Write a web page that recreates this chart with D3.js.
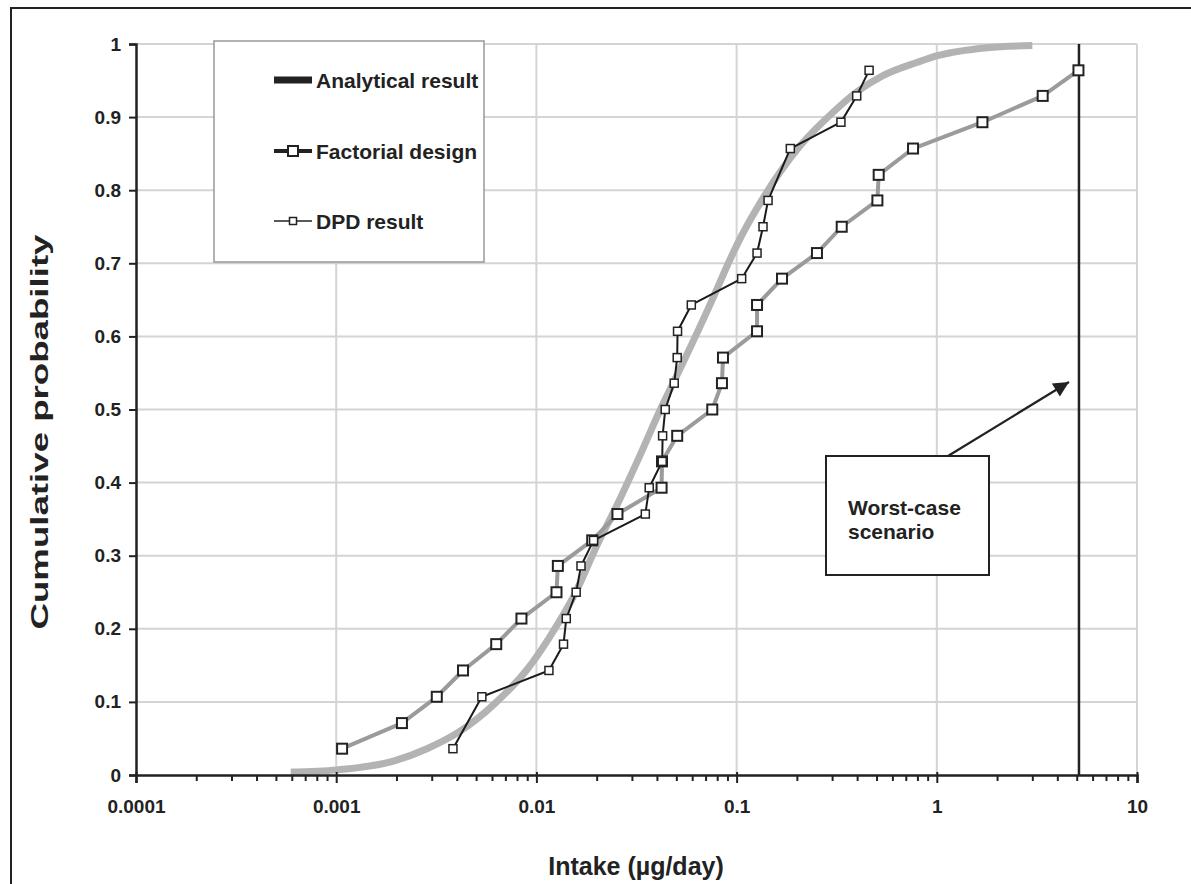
<!DOCTYPE html>
<html>
<head>
<meta charset="utf-8">
<script src="https://cdn.jsdelivr.net/npm/d3@7/dist/d3.min.js"></script>
<style>
  body { margin: 0; background: #fff; }
  svg { display: block; font-family: "Liberation Sans", Arial, sans-serif; }
</style>
</head>
<body>
<svg id="chart" width="1191" height="884"></svg>
<script>
// ---------------- DATA ----------------
const xTickValues = [0.0001, 0.001, 0.01, 0.1, 1, 10];
const xTickLabels = ["0.0001", "0.001", "0.01", "0.1", "1", "10"];
const yTickValues = [0, 0.1, 0.2, 0.3, 0.4, 0.5, 0.6, 0.7, 0.8, 0.9, 1];
const yTickLabels = ["0", "0.1", "0.2", "0.3", "0.4", "0.5", "0.6", "0.7", "0.8", "0.9", "1"];

// Analytical result
const analyticalX = [0.000593, 0.00101, 0.00193, 0.00284, 0.00416, 0.0061, 0.00896, 0.01366, 0.01532, 0.02006, 0.02525, 0.033, 0.0416, 0.0523, 0.0767, 0.0909, 0.102, 0.1314, 0.2081, 0.3043, 0.401, 0.541, 0.8, 1.007, 1.79, 3.0];
const analyticalP = [0.004, 0.007, 0.019, 0.036, 0.060, 0.096, 0.144, 0.220, 0.244, 0.314, 0.369, 0.438, 0.500, 0.556, 0.654, 0.700, 0.729, 0.783, 0.861, 0.907, 0.935, 0.957, 0.975, 0.984, 0.995, 0.998];

// Factorial design
const factorialX = [0.00107, 0.00213, 0.00318, 0.0043, 0.0063, 0.00842, 0.0126, 0.0128, 0.019, 0.0254, 0.0422, 0.0424, 0.0505, 0.0756, 0.0845, 0.0855, 0.1265, 0.1265, 0.1686, 0.252, 0.335, 0.505, 0.5125, 0.761, 1.69, 3.38, 5.10];
const factorialP = [0.036, 0.071, 0.107, 0.143, 0.179, 0.214, 0.25, 0.286, 0.321, 0.357, 0.393, 0.429, 0.464, 0.5, 0.536, 0.571, 0.607, 0.643, 0.679, 0.714, 0.75, 0.786, 0.821, 0.857, 0.893, 0.929, 0.964];

// DPD result
const dpdX = [0.00383, 0.00534, 0.01155, 0.01366, 0.0141, 0.0158, 0.0167, 0.0193, 0.035, 0.0366, 0.0425, 0.0427, 0.044, 0.0488, 0.0505, 0.0507, 0.0594, 0.106, 0.1265, 0.1355, 0.1436, 0.1855, 0.332, 0.398, 0.459];
const dpdP = [0.036, 0.107, 0.143, 0.179, 0.214, 0.25, 0.286, 0.321, 0.357, 0.393, 0.429, 0.464, 0.5, 0.536, 0.571, 0.607, 0.643, 0.679, 0.714, 0.75, 0.786, 0.857, 0.893, 0.929, 0.964];

const worstCaseX = 5.13;
const legendLabels = ["Analytical result", "Factorial design", "DPD result"];
const annotationLines = ["Worst-case", "scenario"];
const xTitle = "Intake (µg/day)";
const yTitle = "Cumulative probability";

// ---------------- CHART ----------------
const svg = d3.select("#chart");
const x = d3.scaleLog().domain([0.0001, 10]).range([136, 1137]);
const y = d3.scaleLinear().domain([0, 1]).range([775, 44]);
const dark = "#222";

// outer frame
svg.append("rect").attr("x", 11).attr("y", 8).attr("width", 1300).attr("height", 1000)
  .attr("fill", "#fff").attr("stroke", dark).attr("stroke-width", 2);

// gridlines
const grid = svg.append("g");
grid.selectAll("line.h").data(yTickValues.filter(d => d > 0)).join("line")
  .attr("x1", x(0.0001)).attr("x2", x(10)).attr("y1", d => y(d)).attr("y2", d => y(d))
  .attr("stroke", "#d4d4d4").attr("stroke-width", 2);
grid.selectAll("line.v").data(xTickValues.filter(d => d > 0.0001)).join("line")
  .attr("x1", d => x(d)).attr("x2", d => x(d)).attr("y1", y(0)).attr("y2", y(1))
  .attr("stroke", "#d4d4d4").attr("stroke-width", 2);

// analytical curve
const anData = analyticalX.map((v, i) => [v, analyticalP[i]]);
svg.append("path").datum(anData)
  .attr("d", d3.line().x(d => x(d[0])).y(d => y(d[1])).curve(d3.curveMonotoneX))
  .attr("fill", "none").attr("stroke", "#b3b3b6").attr("stroke-width", 7).attr("stroke-linecap", "butt");

// factorial
const facData = factorialX.map((v, i) => [v, factorialP[i]]);
svg.append("path").datum(facData)
  .attr("d", d3.line().x(d => x(d[0])).y(d => y(d[1])))
  .attr("fill", "none").attr("stroke", "#9b9b9b").attr("stroke-width", 4).attr("stroke-linejoin", "round");

// dpd
const dpdData = dpdX.map((v, i) => [v, dpdP[i]]);
svg.append("path").datum(dpdData)
  .attr("d", d3.line().x(d => x(d[0])).y(d => y(d[1])))
  .attr("fill", "none").attr("stroke", "#1a1a1a").attr("stroke-width", 2).attr("stroke-linejoin", "round");

// worst-case line
svg.append("line").attr("x1", x(worstCaseX)).attr("x2", x(worstCaseX))
  .attr("y1", y(1)).attr("y2", y(0)).attr("stroke", dark).attr("stroke-width", 2.5);

// markers
const fs = 10;
svg.append("g").selectAll("rect").data(facData).join("rect")
  .attr("x", d => x(d[0]) - fs / 2).attr("y", d => y(d[1]) - fs / 2)
  .attr("width", fs).attr("height", fs)
  .attr("fill", "#fff").attr("stroke", dark).attr("stroke-width", 2);
const ds = 8;
svg.append("g").selectAll("rect").data(dpdData).join("rect")
  .attr("x", d => x(d[0]) - ds / 2).attr("y", d => y(d[1]) - ds / 2)
  .attr("width", ds).attr("height", ds)
  .attr("fill", "#fff").attr("stroke", dark).attr("stroke-width", 1.5);

// axes
const xAxis = svg.append("g").attr("transform", `translate(0,${y(0)})`)
  .call(d3.axisBottom(x).tickValues(xTickValues).tickSize(8)
    .tickFormat((d, i) => xTickLabels[i]));
xAxis.select(".domain").attr("stroke", dark).attr("stroke-width", 2.5);
xAxis.selectAll(".tick line").attr("y1", -3).attr("y2", 8).attr("stroke", dark).attr("stroke-width", 2);
xAxis.selectAll(".tick text").attr("y", 24.5).attr("font-size", 19).attr("font-weight", "bold")
  .attr("fill", dark).attr("font-family", "Liberation Sans, Arial, sans-serif");

const minors = [];
for (let e = -4; e < 1; e++) for (let m = 2; m <= 9; m++) minors.push(m * Math.pow(10, e));
const xMinor = svg.append("g").attr("transform", `translate(0,${y(0)})`)
  .call(d3.axisBottom(x).tickValues(minors).tickSize(6).tickFormat(""));
xMinor.select(".domain").remove();
xMinor.selectAll(".tick line").attr("stroke", dark).attr("stroke-width", 2);

const yAxis = svg.append("g").attr("transform", `translate(${x(0.0001)},0)`)
  .call(d3.axisLeft(y).tickValues(yTickValues).tickSize(7).tickPadding(8)
    .tickFormat((d, i) => yTickLabels[i]));
yAxis.select(".domain").attr("stroke", dark).attr("stroke-width", 2.5);
yAxis.selectAll(".tick line").attr("stroke", dark).attr("stroke-width", 2);
yAxis.selectAll(".tick text").attr("font-size", 19).attr("font-weight", "bold")
  .attr("fill", dark).attr("font-family", "Liberation Sans, Arial, sans-serif");

// axis titles
svg.append("text").attr("x", 636).attr("y", 875).attr("text-anchor", "middle")
  .attr("font-size", 25).attr("font-weight", "bold").attr("fill", dark).text(xTitle);
svg.append("text").attr("transform", "translate(48,432) rotate(-90)").attr("text-anchor", "middle")
  .attr("font-size", 23).attr("font-weight", "bold").attr("fill", dark)
  .attr("textLength", 395).attr("lengthAdjust", "spacingAndGlyphs").text(yTitle);

// legend
const lg = svg.append("g");
lg.append("rect").attr("x", 214).attr("y", 41).attr("width", 270).attr("height", 221)
  .attr("fill", "#fff").attr("stroke", "#999").attr("stroke-width", 1.5);
const rowsY = [80, 151, 221];
lg.append("line").attr("x1", 274).attr("x2", 312).attr("y1", rowsY[0]).attr("y2", rowsY[0])
  .attr("stroke", dark).attr("stroke-width", 7);
lg.append("line").attr("x1", 274).attr("x2", 312).attr("y1", rowsY[1]).attr("y2", rowsY[1])
  .attr("stroke", dark).attr("stroke-width", 4);
lg.append("rect").attr("x", 293 - 5).attr("y", rowsY[1] - 5).attr("width", 10).attr("height", 10)
  .attr("fill", "#fff").attr("stroke", dark).attr("stroke-width", 2);
lg.append("line").attr("x1", 274).attr("x2", 312).attr("y1", rowsY[2]).attr("y2", rowsY[2])
  .attr("stroke", dark).attr("stroke-width", 1.5);
lg.append("rect").attr("x", 293 - 3.5).attr("y", rowsY[2] - 3.5).attr("width", 7).attr("height", 7)
  .attr("fill", "#fff").attr("stroke", dark).attr("stroke-width", 1.5);
lg.selectAll("text").data(legendLabels).join("text")
  .attr("x", 316).attr("y", (d, i) => rowsY[i] + 7.5)
  .attr("font-size", 21).attr("font-weight", "bold").attr("fill", dark).text(d => d);

// annotation
svg.append("defs").append("marker").attr("id", "ah").attr("viewBox", "0 0 10 10")
  .attr("refX", 10).attr("refY", 5).attr("markerWidth", 9).attr("markerHeight", 7)
  .attr("markerUnits", "strokeWidth").attr("orient", "auto")
  .append("path").attr("d", "M0,0 L10,5 L0,10 z").attr("fill", dark);
svg.append("line").attr("x1", 948).attr("y1", 456).attr("x2", 1069).attr("y2", 382)
  .attr("stroke", dark).attr("stroke-width", 2.2).attr("marker-end", "url(#ah)");
svg.append("rect").attr("x", 826).attr("y", 456).attr("width", 163).attr("height", 119)
  .attr("fill", "#fff").attr("stroke", dark).attr("stroke-width", 2);
svg.append("g").selectAll("text").data(annotationLines).join("text")
  .attr("x", 848).attr("y", (d, i) => 515 + i * 24)
  .attr("font-size", 21).attr("font-weight", "bold").attr("fill", dark).text(d => d);
</script>
</body>
</html>
